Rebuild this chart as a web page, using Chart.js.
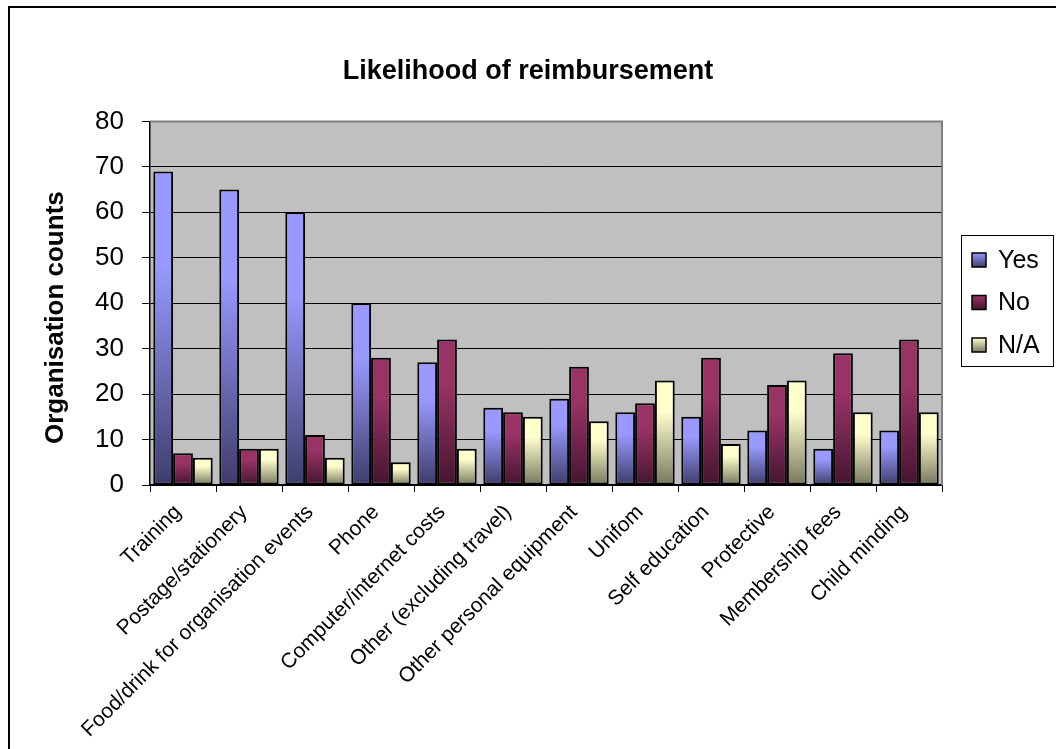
<!DOCTYPE html>
<html>
<head>
<meta charset="utf-8">
<title>Likelihood of reimbursement</title>
<script src="https://cdn.jsdelivr.net/npm/chart.js@4/dist/chart.umd.min.js"></script>
<style>
  html, body { margin: 0; padding: 0; background: #fff; }
  #wrap { position: relative; width: 1056px; height: 749px; overflow: hidden; }
  #frame { position: absolute; left: 8px; top: 6px; width: 1100px; height: 800px;
           border-left: 2px solid #000; border-top: 2px solid #000; pointer-events: none; }
  canvas { position: absolute; left: 0; top: 0; }
</style>
</head>
<body>
<div id="wrap">
  <canvas id="chart" width="1056" height="749"></canvas>
  <div id="frame"></div>
</div>
<script>
const categories = ['Training', 'Postage/stationery', 'Food/drink for organisation events', 'Phone',
  'Computer/internet costs', 'Other (excluding travel)', 'Other personal equipment', 'Unifom',
  'Self education', 'Protective', 'Membership fees', 'Child minding'];
const yesCounts = [69, 65, 60, 40, 27, 17, 19, 16, 15, 12, 8, 12];
const noCounts  = [7, 8, 11, 28, 32, 16, 26, 18, 28, 22, 29, 32];
const naCounts  = [6, 8, 6, 5, 8, 15, 14, 23, 9, 23, 16, 16];
const seriesNames = ['Yes', 'No', 'N/A'];
const yTicks = [0, 10, 20, 30, 40, 50, 60, 70, 80];

const FONT = '"Liberation Sans", Arial, sans-serif';

// vertical gradient per bar, light at top, dark at the base
function barGradient(top, bottom){
  return (c) => {
    const chart = c.chart;
    if (!chart.chartArea || c.type !== 'data') return top;
    const ys = chart.scales.y;
    const y0 = ys.getPixelForValue(c.raw);
    const y1 = ys.getPixelForValue(0);
    const g = chart.ctx.createLinearGradient(0, y0, 0, y1);
    g.addColorStop(0, top);
    g.addColorStop(0.3, top);
    g.addColorStop(1, bottom);
    return g;
  };
}

const palette = [
  ['#9999FF', '#3D3D6B'],
  ['#993366', '#451530'],
  ['#FFFFCC', '#77775F']
];

// empty box on the right so the plot stops short of the legend
// while the title still centres on the full width
const rightGap = {
  id: 'rightGap',
  beforeInit(chart){
    Chart.layouts.addBox(chart, {
      id: 'rightGapBox',
      position: 'right', weight: 100, fullSize: false,
      options: {},
      left: 0, top: 0, right: 0, bottom: 0, width: 0, height: 0,
      isHorizontal(){ return false; },
      getPadding(){ return { left: 0, right: 0, top: 0, bottom: 0 }; },
      update(maxW, maxH){ this.width = 114; this.height = maxH; },
      draw(){}
    });
  }
};

const plotBg = {
  id: 'plotBg',
  beforeDraw(chart){
    const {ctx, chartArea: a} = chart;
    ctx.save();
    ctx.fillStyle = '#C0C0C0';
    ctx.fillRect(a.left, a.top, a.right - a.left, a.bottom - a.top);
    ctx.restore();
  },
  afterDraw(chart){
    const {ctx, chartArea: a} = chart;
    ctx.save();
    ctx.strokeStyle = '#808080';
    ctx.lineWidth = 2;
    ctx.beginPath();
    ctx.moveTo(a.left, a.top);
    ctx.lineTo(a.right, a.top);
    ctx.lineTo(a.right, a.bottom);
    ctx.stroke();
    ctx.restore();
  }
};

const boxLegend = {
  id: 'boxLegend',
  afterDraw(chart){
    const ctx = chart.ctx;
    const x = 961, y = 235, w = 92, h = 131;
    ctx.save();
    ctx.fillStyle = '#fff';
    ctx.fillRect(x, y, w, h);
    ctx.strokeStyle = '#000';
    ctx.lineWidth = 1;
    ctx.strokeRect(x + 0.5, y + 0.5, w, h);
    ctx.font = '25px ' + FONT;
    ctx.textBaseline = 'middle';
    chart.data.datasets.forEach((ds, i) => {
      const cy = y + 25 + i * 42.5;
      const g = ctx.createLinearGradient(0, cy - 7, 0, cy + 7);
      g.addColorStop(0, palette[i][0]);
      g.addColorStop(1, palette[i][1]);
      ctx.fillStyle = g;
      ctx.fillRect(x + 11, cy - 7, 14, 14);
      ctx.strokeStyle = '#000';
      ctx.lineWidth = 1.5;
      ctx.strokeRect(x + 11, cy - 7, 14, 14);
      ctx.fillStyle = '#000';
      ctx.fillText(ds.label, x + 37, cy + 1);
    });
    ctx.restore();
  }
};

const values = [yesCounts, noCounts, naCounts];

new Chart(document.getElementById('chart'), {
  type: 'bar',
  data: {
    labels: categories,
    datasets: values.map((v, i) => ({
      label: seriesNames[i],
      data: v,
      backgroundColor: barGradient(palette[i][0], palette[i][1]),
      borderColor: '#000',
      borderWidth: 2,
      borderSkipped: false,
      categoryPercentage: 0.9,
      barPercentage: 1.0
    }))
  },
  options: {
    responsive: false,
    animation: false,
    layout: { padding: 0 },
    plugins: {
      legend: { display: false },
      tooltip: { enabled: false },
      title: {
        display: true,
        text: 'Likelihood of reimbursement',
        color: '#000',
        font: { family: FONT, size: 27, weight: 'bold' },
        padding: { top: 55, bottom: 34 }
      }
    },
    scales: {
      x: {
        grid: { display: true, drawOnChartArea: false, offset: true, color: '#000', tickLength: 7 },
        border: { color: '#000', width: 1.5 },
        ticks: {
          color: '#000',
          font: { family: FONT, size: 21 },
          minRotation: 45, maxRotation: 45,
          autoSkip: false,
          labelOffset: -5,
          padding: 8
        },
        afterFit(scale){ scale.height = 264; }
      },
      y: {
        min: 0, max: 80,
        grid: { color: '#000', lineWidth: 1, tickLength: 8 },
        border: { color: '#000', width: 1.5 },
        afterBuildTicks(scale){ scale.ticks = yTicks.map(v => ({ value: v })); },
        ticks: {
          color: '#000',
          font: { family: FONT, size: 26 },
          padding: 18
        },
        title: {
          display: true,
          // trailing spaces nudge the label down like the original
          text: 'Organisation counts    ',
          color: '#000',
          font: { family: FONT, size: 26, weight: 'bold' },
          padding: { top: 40, bottom: 0 }
        },
        afterFit(scale){ scale.width = 150; }
      }
    }
  },
  plugins: [rightGap, plotBg, boxLegend]
});
</script>
</body>
</html>
